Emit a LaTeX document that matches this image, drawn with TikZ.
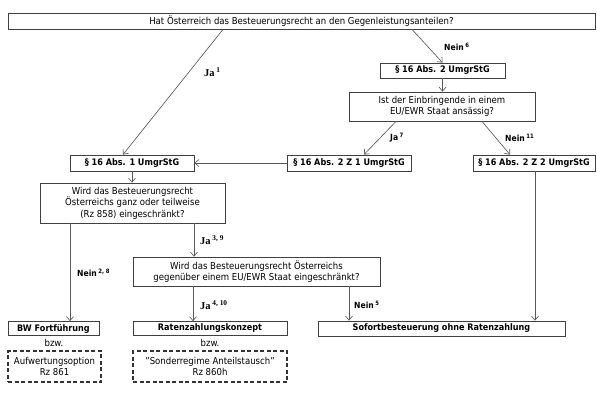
\documentclass[tikz,border=0pt]{standalone}
\usepackage{fontspec}
\setmainfont{DejaVu Sans}[FakeStretch=0.9]
\newfontfamily\lblserif{Liberation Serif}
\usetikzlibrary{arrows.meta}
\begin{document}
\begin{tikzpicture}[x=1pt,y=-1pt,
  box/.style={draw=black!75,line width=0.8pt,inner sep=0pt,align=center,font=\fontsize{9.5}{11.5}\selectfont},
  bbox/.style={box,font=\fontsize{9}{11}\selectfont\bfseries},
  dbox/.style={draw=black!80,line width=1.3pt,dash pattern=on 4pt off 2.5pt,inner sep=0pt,align=center,font=\fontsize{9.5}{11.5}\selectfont},
  conn/.style={draw=black!65,line width=0.65pt,-{Straight Barb[length=4pt,width=7pt]}},
  lbl/.style={anchor=west,inner sep=0pt,font=\fontsize{8.5}{10}\selectfont\bfseries},
  slbl/.style={lbl,font=\fontsize{10.5}{12}\lblserif\bfseries},
  plain/.style={inner sep=0pt,font=\fontsize{9.5}{11}\selectfont}]
\useasboundingbox[fill=white] (0,0) rectangle (597,397);
% nodes
\node[box,minimum width=587,minimum height=16] (top) at (301.5,21) {Hat Österreich das Besteuerungsrecht an den Gegenleistungsanteilen?};
\node[bbox,minimum width=125,minimum height=15] (abs2) at (442.5,70.5) {§ 16 Abs. 2 UmgrStG};
\node[box,minimum width=186,minimum height=29] (q2) at (442,106.5) {Ist der Einbringende in einem\\EU/EWR Staat ansässig?};
\node[bbox,minimum width=124,minimum height=16] (abs1) at (132,163) {§ 16 Abs. 1 UmgrStG};
\node[bbox,minimum width=124,minimum height=16] (z1) at (349,163) {§ 16 Abs. 2 Z 1 UmgrStG};
\node[bbox,minimum width=122,minimum height=16] (z2) at (534,163) {§ 16 Abs. 2 Z 2 UmgrStG};
\node[box,minimum width=185,minimum height=40] (wird) at (132.5,203) {Wird das Besteuerungsrecht\\Österreichs ganz oder teilweise\\(Rz 858) eingeschränkt?};
\node[box,minimum width=247,minimum height=29] (q3) at (256.5,271.5) {Wird das Besteuerungsrecht Österreichs\\gegenüber einem EU/EWR Staat eingeschränkt?};
\node[bbox,minimum width=91,minimum height=14] (bw) at (53.5,328.5) {BW Fortführung};
\node[bbox,minimum width=154,minimum height=14] (raten) at (210,328.5) {Ratenzahlungskonzept};
\node[bbox,minimum width=247,minimum height=15] (sofort) at (441.5,328.5) {Sofortbesteuerung ohne Ratenzahlung};
\node[plain] (bzw1) at (54,343) {bzw.};
\node[plain] (bzw2) at (210,343) {bzw.};
\node[dbox,minimum width=93,minimum height=31] (opt1) at (54.5,366.5) {Aufwertungsoption\\Rz 861};
\node[dbox,minimum width=154,minimum height=31] (opt2) at (210,366.5) {"Sonderregime Anteilstausch"\\Rz 860h};
% connectors
\draw[conn] (top.south -| 223,0) -- (abs1.north -| 123,0);
\draw[conn] (top.south -| 412,0) -- (abs2.north);
\draw[conn] (abs2.south) -- (q2.north -| abs2.south);
\draw[conn] (q2.south -| 396,0) -- (z1.north -| 364,0);
\draw[conn] (q2.south -| 482,0) -- (z2.north -| 510,0);
\draw[conn] (z1.west) -- (abs1.east);
\draw[conn] (abs1.south) -- (wird.north -| abs1.south);
\draw[conn] (wird.south -| 70,0) -- (bw.north -| 70,0);
\draw[conn] (wird.south -| 194,0) -- (q3.north -| 194,0);
\draw[conn] (q3.south -| 193,0) -- (raten.north -| 193,0);
\draw[conn] (q3.south -| 349,0) -- (sofort.north -| 349,0);
\draw[conn] (z2.south -| 535,0) -- (sofort.north -| 535,0);
% labels
\node[slbl] (l1) at (204,72) {Ja\,\textsuperscript{1}};
\node[lbl] (l6) at (444,47) {Nein\,\textsuperscript{6}};
\node[lbl] (l7) at (390,138) {Ja\,\textsuperscript{7}};
\node[lbl] (l11) at (505,138) {Nein\,\textsuperscript{11}};
\node[lbl] (l28) at (77,273) {Nein\,\textsuperscript{2, 8}};
\node[slbl] (l39) at (200,240) {Ja\,\textsuperscript{3, 9}};
\node[slbl] (l410) at (200,305) {Ja\,\textsuperscript{4, 10}};
\node[lbl] (l5) at (354,305) {Nein\,\textsuperscript{5}};
\end{tikzpicture}
\end{document}
